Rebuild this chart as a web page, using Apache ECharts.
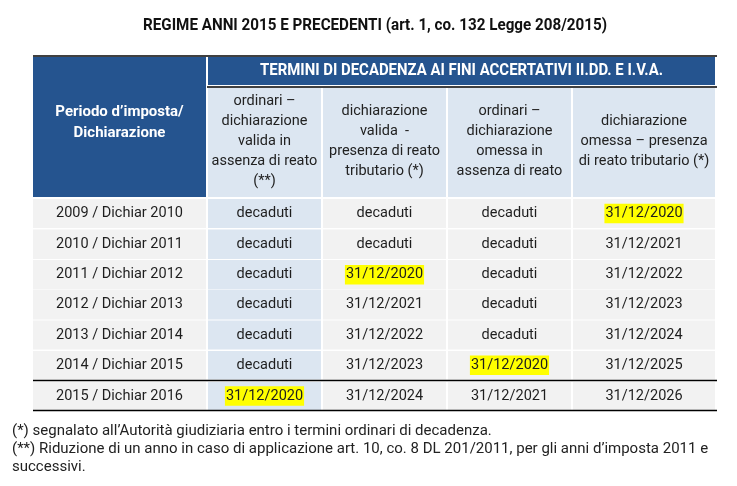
<!DOCTYPE html>
<html><head><meta charset="utf-8">
<script src="https://cdn.jsdelivr.net/npm/echarts@6/dist/echarts.min.js"></script>
<style>html,body{margin:0;padding:0;background:#fff}#c{width:737px;height:486px}</style>
</head><body><div id="c"></div>
<script>
// ---- data ----
const titleText = 'REGIME ANNI 2015 E PRECEDENTI (art. 1, co. 132 Legge 208/2015)';
const groupHeader = 'TERMINI DI DECADENZA AI FINI ACCERTATIVI II.DD. E I.V.A.';
const firstHeader = 'Periodo d\u2019imposta/\nDichiarazione';
const colHeaders = [
  'ordinari \u2013\ndichiarazione\nvalida in\nassenza di reato\n(**)',
  'dichiarazione\nvalida  -\npresenza di reato\ntributario (*)',
  'ordinari \u2013\ndichiarazione\nomessa in\nassenza di reato',
  'dichiarazione\nomessa \u2013 presenza\ndi reato tributario (*)'
];
const periods = ['2009 / Dichiar 2010','2010 / Dichiar 2011','2011 / Dichiar 2012','2012 / Dichiar 2013','2013 / Dichiar 2014','2014 / Dichiar 2015','2015 / Dichiar 2016'];
const ordinariValida = ['decaduti','decaduti','decaduti','decaduti','decaduti','decaduti','31/12/2020'];
const reatoValida = ['decaduti','decaduti','31/12/2020','31/12/2021','31/12/2022','31/12/2023','31/12/2024'];
const ordinariOmessa = ['decaduti','decaduti','decaduti','decaduti','decaduti','31/12/2020','31/12/2021'];
const reatoOmessa = ['31/12/2020','31/12/2021','31/12/2022','31/12/2023','31/12/2024','31/12/2025','31/12/2026'];
const highlighted = '31/12/2020';
const footnotes = [
  '(*) segnalato all\u2019Autorit\u00e0 giudiziaria entro i termini ordinari di decadenza.',
  '(**) Riduzione di un anno in caso di applicazione art. 10, co. 8 DL 201/2011, per gli anni d\u2019imposta 2011 e',
  'successivi.'
];

// ---- layout ----
const colX = [[33,206],[208,321],[323,446],[448,571],[573,715]];
const rowY = [[199,228],[229.5,259],[260,289.5],[290,319.5],[320.5,349.5],[351,379.5],[382,410]];
const BLUE = '#25548f', LBLUE = '#dce6f1', GRAY = '#f2f2f2', TXT = '#1e1e1e';
const ROBOTO = "Roboto,'Liberation Sans',sans-serif";

const mctx = document.createElement('canvas').getContext('2d');
function fitScale(text, font, width){ mctx.font = font; return width / mctx.measureText(text).width; }
const titleScale = fitScale(titleText, 'bold 17px ' + ROBOTO, 464);
const groupScale = fitScale(groupHeader, 'bold 16px ' + ROBOTO, 403);

const cells = [];
cells.push({x:colX[0], y:[57,197], fill:BLUE, text:firstHeader, color:'#fff', weight:'bold', size:15, lh:21, dy:-4});
cells.push({x:[colX[1][0], colX[4][1]], y:[57,85], fill:BLUE, text:groupHeader, color:'#fff', weight:'bold', size:16, sx:groupScale});
colHeaders.forEach((h,i)=>cells.push({x:colX[i+1], y:[88,197], fill:LBLUE, text:h, color:'#222', size:14.5, lh:20, dy:-1}));
const cols = [periods, ordinariValida, reatoValida, ordinariOmessa, reatoOmessa];
periods.forEach((p,r)=>{
  cols.forEach((arr,c)=>{
    cells.push({x:colX[c], y:rowY[r], fill: c===1?LBLUE:GRAY, text:arr[r], color:TXT, size:14.5, hl: arr[r]===highlighted});
  });
});
const lines = [
  [[33,56],[717,56]],
  [[207,87],[717,87]],
  [[33,380.5],[717,380.5]],
  [[33,410.5],[717,410.5]]
];

const chart = echarts.init(document.getElementById('c'), null, {renderer:'canvas'});
chart.setOption({
  animation:false,
  grid:{left:0,right:0,top:0,bottom:0},
  xAxis:{type:'value', min:0, max:737, show:false},
  yAxis:{type:'value', min:0, max:486, inverse:true, show:false},
  graphic: [{type:'text', x:375, y:26, scaleX:titleScale,
      style:{text:titleText, align:'center', verticalAlign:'middle', font:'bold 17px '+ROBOTO, fill:'#111'}}]
    .concat(footnotes.map((t,i)=>({type:'text', x:12, y:431+i*18,
      style:{text:t, verticalAlign:'middle', font:'15px '+ROBOTO, fill:'#222'}}))),
  series:[
    {type:'custom', coordinateSystem:'cartesian2d', data:cells.map((c,i)=>[i]),
     renderItem:(params, api)=>{
       const c = cells[params.dataIndex];
       const p0 = api.coord([c.x[0], c.y[0]]), p1 = api.coord([c.x[1], c.y[1]]);
       const cx = (p0[0]+p1[0])/2, cy = (p0[1]+p1[1])/2 + (c.dy||0);
       const size = c.size||14;
       return {type:'group', children:[
         {type:'rect', shape:{x:p0[0], y:p0[1], width:p1[0]-p0[0], height:p1[1]-p0[1]}, style:{fill:c.fill}},
         {type:'text', x:cx, y:cy, scaleX:c.sx||1, style:{text:c.text, align:'center', verticalAlign:'middle',
           fontFamily:ROBOTO, fontSize:size, fontWeight:c.weight||'normal', fill:c.color,
           lineHeight:c.lh||size+4, backgroundColor:c.hl?'#ffff00':null, padding:c.hl?[1,1,0,1]:0}}
       ]};
     }},
    {type:'custom', coordinateSystem:'cartesian2d', data:lines.map((l,i)=>[i]),
     renderItem:(params, api)=>{
       const l = lines[params.dataIndex];
       const a = api.coord(l[0]), b = api.coord(l[1]);
       return {type:'line', shape:{x1:a[0], y1:a[1], x2:b[0], y2:b[1]}, style:{stroke:'#000', lineWidth:1.5}};
     }}
  ]
});
</script></body></html>
